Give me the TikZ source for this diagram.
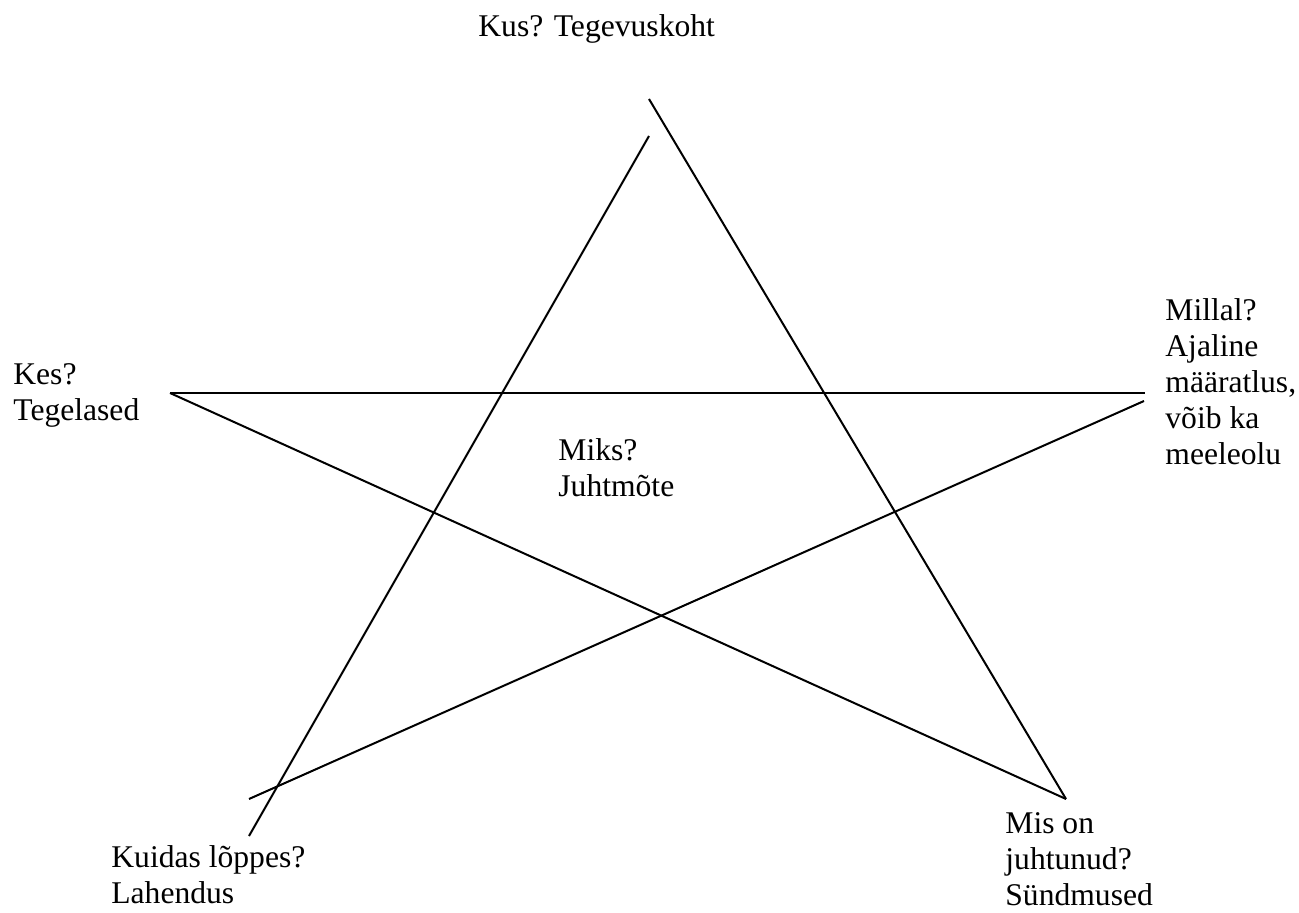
\documentclass[tikz,border=0pt]{standalone}
\usepackage{fontspec}
\setmainfont{Liberation Serif}
\usepackage{tikz}

\begin{document}
\begin{tikzpicture}[x=0.5pt,y=-0.5pt,
  lbl/.style={anchor=base west, inner sep=0pt, align=left,
    font=\fontsize{15.8}{18}\selectfont},
  edge/.style={line width=1pt}]
\useasboundingbox (0,0) rectangle (1299,913);
% labels, placed at the baseline of their last line
\node[lbl] (kus) at (478,37) {Kus? Tegevuskoht};
\node[lbl] (kes) at (13,421) {Kes?\\Tegelased};
\node[lbl] (millal) at (1165,465) {Millal?\\Ajaline\\määratlus,\\võib ka\\meeleolu};
\node[lbl] (miks) at (558,497) {Miks?\\Juhtmõte};
\node[lbl] (kuidas) at (111,903) {Kuidas lõppes?\\Lahendus};
\node[lbl] (mis) at (1005,905) {Mis on\\juhtunud?\\Sündmused};
\coordinate (topR) at (649,99);
\coordinate (topL) at (649,136);
\coordinate (left) at (170,393);
\coordinate (rightH) at (1145,393);
\coordinate (rightD) at (1144,401);
\coordinate (botLD) at (249,799);
\coordinate (botLV) at (249,836);
\coordinate (botR) at (1066,799);
\draw [edge] (topR) -- (botR);
\draw [edge] (topL) -- (botLV);
\draw [edge] (left) -- (rightH);
\draw [edge] (left) -- (botR);
\draw [edge] (rightD) -- (botLD);
\end{tikzpicture}
\end{document}
